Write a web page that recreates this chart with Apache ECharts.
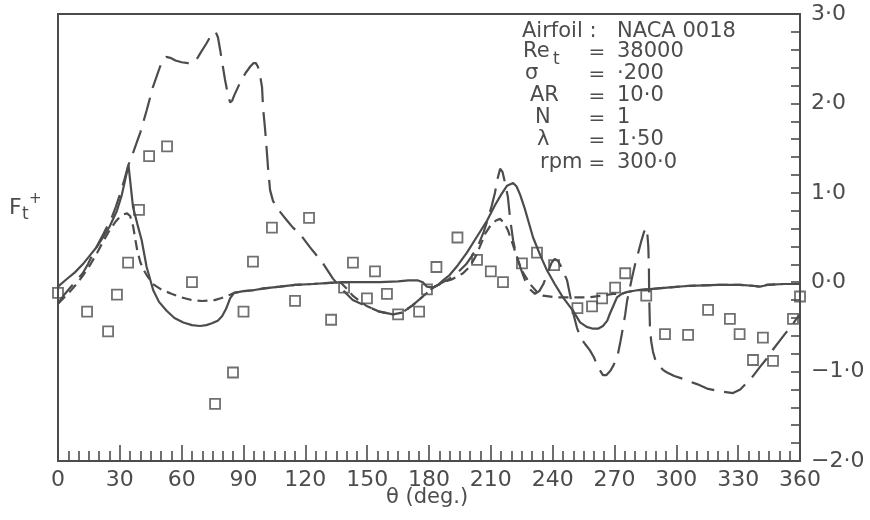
<!DOCTYPE html>
<html>
<head>
<meta charset="utf-8">
<script src="https://cdn.jsdelivr.net/npm/echarts@6/dist/echarts.min.js"></script>
<style>
html,body{margin:0;padding:0;background:#fff;}
#chart{width:870px;height:520px;}
</style>
</head>
<body>
<div id="chart"></div>
<script>
// ---- data (theta in degrees, Ft+ values) ----
const xTickValues = [0,30,60,90,120,150,180,210,240,270,300,330,360];
const xTickLabels = ['0','30','60','90','120','150','180','210','240','270','300','330','360'];
const yTickValues = [-2,-1,0,1,2,3];
const yTickLabels = ['\u22122\u00b70','\u22121\u00b70','0\u00b70','1\u00b70','2\u00b70','3\u00b70'];

// solid curve
const solidCurve = [
[0,-0.05],[4,0.03],[8.2,0.11],[12,0.2],[15.5,0.30],[19,0.4],[21.8,0.50],[25,0.62],[28.6,0.80],[31,0.98],[34.2,1.31],
[36.4,0.84],[38.5,0.65],[40.6,0.47],[43,0.17],[46.2,-0.09],[49,-0.22],[52.7,-0.32],[56.5,-0.40],[60.8,-0.45],[65,-0.48],
[68.9,-0.49],[72,-0.48],[74.7,-0.46],[77.5,-0.43],[79.6,-0.38],[81.5,-0.30],[83.5,-0.18],[85.4,-0.12],[90,-0.10],[94.6,-0.09],
[100,-0.07],[107.7,-0.05],[115,-0.03],[123.7,-0.02],[130,-0.01],[138.3,0.0],[147,0.0],[156.2,0.0],[165,0.01],[170,0.02],
[174.7,0.02],[177,0.0],[179,-0.05],[182,-0.06],[184.5,-0.03],[186.8,0.02],[190,0.08],[194,0.19],[198.4,0.33],[203,0.5],
[208.2,0.69],[212,0.86],[215,0.98],[217.9,1.08],[220.8,1.11],[222.5,1.07],[224.2,0.98],[226.5,0.82],[228.5,0.66],[230.5,0.50],
[234,0.30],[237.3,0.13],[241,-0.02],[245,-0.17],[249.9,-0.32],[253.3,-0.45],[256.5,-0.50],[259.6,-0.52],[262,-0.52],[264.4,-0.49],
[266.5,-0.43],[267.8,-0.35],[269.5,-0.26],[271.2,-0.17],[273.5,-0.13],[276.1,-0.11],[281,-0.09],[285.8,-0.08],[295.5,-0.06],
[306.6,-0.04],[320,-0.03],[330.9,-0.03],[337,-0.04],[340.6,-0.05],[342.5,-0.04],[344,-0.03],[352,-0.02],[360,-0.02]
];

// short-dashed curve
const shortDashCurve = [
[0,-0.24],[3,-0.17],[6,-0.1],[9,-0.02],[12,0.07],[15.5,0.19],[19,0.33],[22,0.46],[25,0.58],[28,0.68],[30,0.73],[32,0.76],
[33.5,0.77],[35,0.74],[36.5,0.62],[37.5,0.48],[38.5,0.35],[40,0.22],[41.5,0.14],[43,0.08],[46,-0.02],[50,-0.08],[55,-0.13],
[60,-0.17],[65,-0.2],[70,-0.21],[76,-0.2],[79,-0.18],[81.5,-0.16],[83.5,-0.14],[85.4,-0.12],[90,-0.10],[94.6,-0.09],[100,-0.07],
[107.7,-0.05],[115,-0.03],[123.7,-0.02],[130,-0.01],[137,0.0],[140,-0.07],[143,-0.15],[147,-0.22],[150,-0.27],[156,-0.33],
[162.5,-0.36],[167,-0.34],[172,-0.26],[177,-0.16],[182,-0.06],[187,0.0],[191,0.03],[196.5,0.1],[200,0.18],[203.3,0.32],
[207.2,0.54],[210,0.64],[212.5,0.69],[214.5,0.71],[216.5,0.66],[218.3,0.58],[220,0.47],[221.7,0.35],[225,0.13],[229,-0.02],
[232.4,-0.11],[235.3,-0.15],[242,-0.17],[250,-0.17],[257,-0.17],[264.4,-0.15],[269.3,-0.13],[273.5,-0.13],[276.1,-0.11],
[281,-0.09],[285.8,-0.08],[295.5,-0.06],[306.6,-0.04],[320,-0.03],[330.9,-0.03],[337,-0.04],[340.6,-0.05],[344,-0.03],
[352,-0.02],[360,-0.02]
];

// long-dashed curve
const longDashCurve = [
[0,-0.24],[3,-0.14],[6,-0.06],[9,0.02],[12,0.1],[14.5,0.2],[17,0.32],[19.5,0.43],[22,0.54],[24,0.63],[26,0.72],[28,0.84],
[30,0.98],[32,1.13],[34,1.3],[36,1.42],[38,1.55],[40,1.68],[43,1.92],[46,2.18],[49.5,2.41],[51,2.49],[52.5,2.52],[54.5,2.51],
[57,2.48],[60,2.46],[63,2.45],[65,2.45],[66.5,2.47],[68,2.52],[69,2.56],[72,2.67],[74,2.75],[75.5,2.79],[76.5,2.8],[77.6,2.74],
[78.8,2.58],[80,2.41],[81,2.27],[82,2.15],[83.5,2.01],[84.5,2.03],[85.5,2.09],[88.3,2.23],[91,2.34],[93.2,2.41],[94.8,2.45],
[96,2.45],[97,2.41],[98,2.32],[99,2.18],[99.5,1.95],[100.4,1.73],[101.2,1.5],[101.9,1.28],[102.9,1.03],[104.3,0.91],
[106.3,0.83],[109,0.75],[111.1,0.69],[114,0.61],[117.4,0.54],[122.3,0.39],[128.6,0.21],[133.4,0.04],[138.3,-0.09],[143,-0.2],
[150,-0.27],[156,-0.33],[162.5,-0.36],[167,-0.34],[172,-0.26],[177,-0.16],[182,-0.06],[186,-0.01],[190,0.04],[194,0.11],
[198,0.2],[201,0.3],[204,0.42],[206.5,0.56],[208.5,0.7],[210.5,0.86],[212,1.0],[213.3,1.16],[214.5,1.27],[215.7,1.23],
[217,1.1],[218.3,0.95],[219.3,0.72],[220.8,0.47],[222,0.34],[223.2,0.24],[225,0.12],[226.6,0.02],[229,-0.08],[231.4,-0.13],
[233.5,-0.1],[235.5,-0.02],[237.5,0.1],[239.5,0.22],[241,0.26],[242.5,0.24],[244,0.18],[245.5,0.1],[247,0.02],[248.5,-0.15],
[250,-0.35],[251.8,-0.51],[253.5,-0.62],[256,-0.7],[258,-0.76],[260,-0.84],[262,-0.95],[264.4,-1.04],[266,-1.04],[268,-0.99],
[269.5,-0.93],[270.8,-0.86],[271.7,-0.8],[273,-0.65],[274.1,-0.51],[275.2,-0.36],[276.1,-0.21],[277.3,-0.08],[278.5,0.05],
[280,0.2],[281.4,0.32],[283,0.46],[284.3,0.56],[285.3,0.61],[286,0.52],[286.4,0.4],[286.7,0.16],[286.8,-0.1],[287,-0.32],
[287.2,-0.5],[287.8,-0.66],[288.7,-0.78],[289.7,-0.86],[291.5,-0.93],[293.5,-0.98],[295.5,-1.01],[299,-1.05],[303.2,-1.08],
[306.5,-1.11],[310,-1.14],[314.9,-1.19],[321.2,-1.22],[327.5,-1.24],[331,-1.2],[334,-1.13],[337.2,-1.05],[340.5,-0.95],
[344,-0.85],[347,-0.75],[350.3,-0.65],[353,-0.57],[355.2,-0.51],[358.6,-0.40],[360,-0.36]
];

// experimental points (squares)
const experimentPoints = [
[0,-0.12],[14.1,-0.33],[24.3,-0.55],[28.6,-0.14],[34,0.22],[39.3,0.81],[44.2,1.41],[52.9,1.52],[65,0.0],[76.2,-1.36],
[84.9,-1.01],[90,-0.33],[94.6,0.23],[103.8,0.61],[115,-0.21],[121.8,0.72],[132.5,-0.42],[138.8,-0.06],[143.1,0.22],
[149.9,-0.18],[153.8,0.12],[159.6,-0.13],[165,-0.36],[175.2,-0.33],[179,-0.08],[183.6,0.17],[193.8,0.5],[203.3,0.25],
[210,0.12],[215.9,0.0],[225.1,0.21],[232.4,0.33],[240.7,0.19],[252,-0.29],[259.1,-0.27],[264,-0.18],[270.3,-0.06],
[275.2,0.1],[285.4,-0.15],[294.5,-0.58],[305.7,-0.59],[315.4,-0.31],[326,-0.41],[330.7,-0.58],[337.2,-0.87],[342,-0.62],
[346.9,-0.88],[356.6,-0.41],[360,-0.16]
];

// annotation text lines
const infoNames = ['Airfoil :', 'Re', '\u03c3', 'AR', 'N', '\u03bb', 'rpm'];
const infoValues = ['NACA 0018', '38000', '\u00b7200', '10\u00b70', '1', '1\u00b750', '300\u00b70'];

// ---- rendering ----
const ink = '#4c4c4c';
const FONT = '"DejaVu Sans", "Liberation Sans", sans-serif';
const chart = echarts.init(document.getElementById('chart'), null, {renderer:'canvas'});

function lab(values, labels, v){
  for (let i=0;i<values.length;i++) if (Math.abs(values[i]-v)<1e-6) return labels[i];
  return '';
}

const nameX = [522, 523, 525, 530, 535, 537, 540];
const lineY = [32, 52, 74, 96, 118, 140, 163];
const graphics = [];
for (let i=0;i<infoNames.length;i++){
  graphics.push({type:'text', x:nameX[i], y:lineY[i], silent:true,
    style:{text:infoNames[i], font:'21px '+FONT, fill:ink, align:'left', verticalAlign:'middle'}});
  if (i>0) graphics.push({type:'text', x:597, y:lineY[i]+1, silent:true,
    style:{text:'=', font:'20px '+FONT, fill:ink, align:'center', verticalAlign:'middle'}});
  graphics.push({type:'text', x:617, y:lineY[i], silent:true,
    style:{text:infoValues[i], font:'21px '+FONT, fill:ink, align:'left', verticalAlign:'middle'}});
}
// subscript t of Re
graphics.push({type:'text', x:553, y:60, silent:true,
  style:{text:'t', font:'17px '+FONT, fill:ink, align:'left', verticalAlign:'middle'}});
// y-axis name Ft+
graphics.push({type:'text', x:9, y:208, silent:true,
  style:{text:'F', font:'22px '+FONT, fill:ink, align:'left', verticalAlign:'middle'}});
graphics.push({type:'text', x:22, y:215, silent:true,
  style:{text:'t', font:'17px '+FONT, fill:ink, align:'left', verticalAlign:'middle'}});
graphics.push({type:'text', x:29, y:199, silent:true,
  style:{text:'+', font:'15px '+FONT, fill:ink, align:'left', verticalAlign:'middle'}});
// x-axis name
graphics.push({type:'text', x:427, y:498, silent:true,
  style:{text:'\u03b8 (deg.)', font:'21px '+FONT, fill:ink, align:'center', verticalAlign:'middle'}});

const option = {
  animation:false,
  backgroundColor:'#ffffff',
  grid:{left:58, top:14, width:742, height:447, show:true, borderColor:ink, borderWidth:2,
        backgroundColor:'transparent', containLabel:false, outerBoundsMode:'none'},
  xAxis:{
    type:'value', min:0, max:360, interval:30,
    axisLine:{show:true, onZero:false, lineStyle:{color:ink, width:2}},
    axisTick:{show:true, inside:true, length:16, lineStyle:{color:ink, width:1.6}},
    minorTick:{show:true, splitNumber:6, length:10, lineStyle:{color:ink, width:1.6}},
    splitLine:{show:false}, minorSplitLine:{show:false},
    axisLabel:{show:true, color:ink, fontSize:22, fontFamily:FONT, margin:8, showMinLabel:true, showMaxLabel:true,
      hideOverlap:false, formatter:(v)=>lab(xTickValues, xTickLabels, v)}
  },
  yAxis:{
    type:'value', position:'right', min:-2, max:3, interval:1,
    axisLine:{show:true, onZero:false, lineStyle:{color:ink, width:2}},
    axisTick:{show:true, inside:true, length:9, lineStyle:{color:ink, width:1.6}},
    minorTick:{show:true, splitNumber:5, length:9, lineStyle:{color:ink, width:1.6}},
    splitLine:{show:false}, minorSplitLine:{show:false},
    axisLabel:{show:true, color:ink, fontSize:22, fontFamily:FONT, margin:11, align:'left', showMinLabel:true, showMaxLabel:true,
      hideOverlap:false, formatter:(v)=>lab(yTickValues, yTickLabels, v)}
  },
  series:[
    {type:'line', data:solidCurve, showSymbol:false, symbol:'none', silent:true, z:3,
      lineStyle:{color:ink, width:2.2, type:'solid'}},
    {type:'line', data:shortDashCurve, showSymbol:false, symbol:'none', silent:true, z:3,
      lineStyle:{color:ink, width:2.2, type:[10,6]}},
    {type:'line', data:longDashCurve, showSymbol:false, symbol:'none', silent:true, z:3,
      lineStyle:{color:ink, width:2.2, type:[24,10]}},
    {type:'scatter', data:experimentPoints, symbol:'rect', symbolSize:10, silent:true, z:4,
      itemStyle:{color:'rgba(255,255,255,0)', borderColor:ink, borderWidth:1.8}}
  ],
  graphic:graphics
};
chart.setOption(option);
</script>
</body>
</html>
